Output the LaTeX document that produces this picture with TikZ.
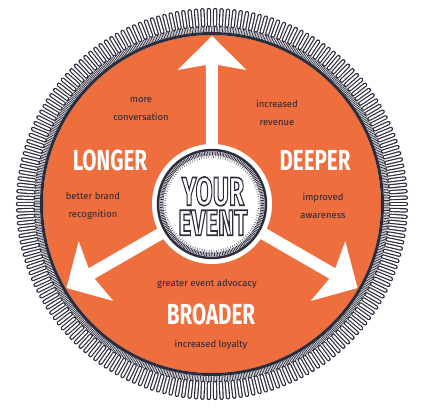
\documentclass[tikz,border=0pt]{standalone}
\usepackage{fontspec}
\setmainfont{Fira Sans}
\definecolor{eventorange}{HTML}{EF6E3E}
\definecolor{ringdark}{HTML}{2B2D3C}
\definecolor{noteink}{HTML}{22263A}
\tikzset{
  bigword/.style={text=white, font=\fontsize{29}{29}\selectfont\bfseries, inner sep=0pt},
  smallnote/.style={text=noteink, font=\fontsize{9.5}{18}\selectfont, align=center, inner sep=0pt},
  badgeword/.style={text=white, inner sep=0pt, align=center, font=\fontsize{36}{30}\selectfont\bfseries},
  spoke/.style={fill=white},
  tickbar/.style={draw=ringdark, line width=1.2pt, double=white, double distance=2pt, line cap=round},
}
\newcommand{\narrow}[2]{\scalebox{#1}[1]{#2}}
% white letters with a dark outline (fill+stroke text render mode)
\newcommand{\outlined}[1]{\special{pdf:literal direct 2 Tr 1.6 w 0.169 0.176 0.235 RG}#1\special{pdf:literal direct 0 Tr}}
\begin{document}
\begin{tikzpicture}[x=1pt, y=1pt]
	\useasboundingbox (-212,-204) rectangle (214,204);

	% Outer ring with ticks
	\draw[ringdark, line width=6pt, dash pattern=on 0.7pt off 0.9pt] (0,0) circle (175pt);
	\foreach \i in {0,...,189}
		\draw[tickbar] ({1.8947*\i}:179pt) -- ({1.8947*\i}:194pt);

	% Orange disk
	\fill[eventorange] (0,0) circle (169pt);
	\draw[ringdark, line width=3pt] (0,0) circle (170.5pt);

	% Three arrows
	\foreach \ang in {90,210,330}
		\fill[spoke, rotate=\ang] (50,-6) -- (139,-6) -- (134,-34.5) -- (168,0)
			-- (134,34.5) -- (139,6) -- (50,6) -- cycle;

	% Center badge
	\node[circle, fill=white, minimum size=120pt, inner sep=0pt] (core) at (0,0) {};
	\draw[ringdark, line width=2.5pt] (core.center) circle (54pt);
	\draw[ringdark, line width=4pt, dash pattern=on 0.8pt off 0.8pt] (core.center) circle (50.5pt);
	\draw[ringdark!70, line width=2pt, dash pattern=on 0.6pt off 1.8pt] (core.center) circle (47pt);
	\node[badgeword] (yourevent) at (1,-2)
		{{\fontsize{40}{30}\selectfont\narrow{0.62}{\outlined{YOUR}}}\\\narrow{0.68}{\outlined{EVENT}}};

	% Labels
	\node[bigword] (longer) at (-102,44) {\narrow{0.71}{LONGER}};
	\node[bigword] (deeper) at (103,44) {\narrow{0.71}{DEEPER}};
	\node[bigword] (broader) at (-1,-110) {\narrow{0.71}{BROADER}};

	% Notes
	\node[smallnote] (conv) at (-71,95) {more\\conversation};
	\node[smallnote] (revenue) at (65,91) {increased\\revenue};
	\node[smallnote] (brand) at (-119,-2) {better brand\\recognition};
	\node[smallnote] (aware) at (111,-2) {improved\\awareness};
	\node[smallnote] (advocacy) at (-5,-80) {greater event advocacy};
	\node[smallnote] (loyalty) at (-1,-141) {increased loyalty};
\end{tikzpicture}
\end{document}
